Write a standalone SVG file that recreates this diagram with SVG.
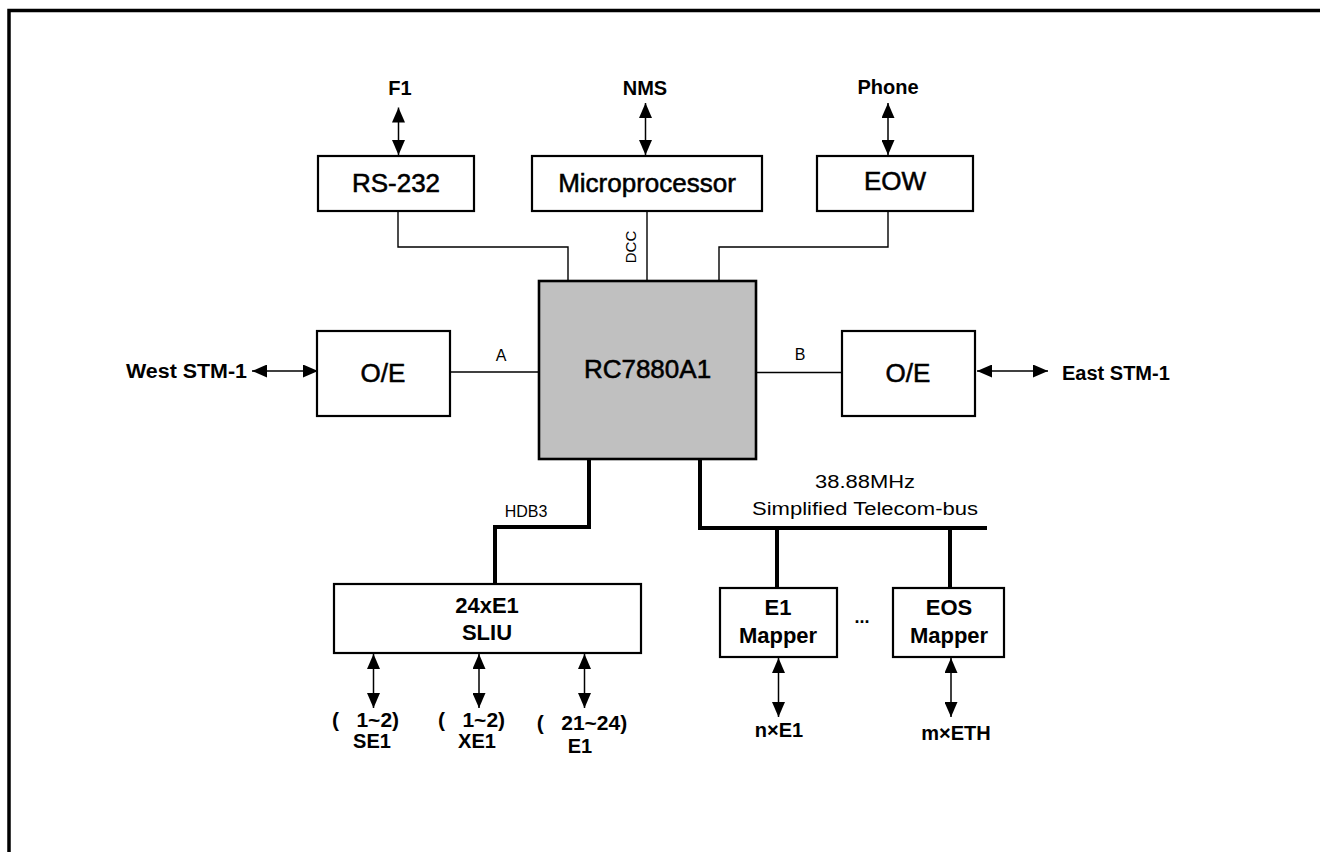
<svg xmlns="http://www.w3.org/2000/svg" width="1320" height="852" viewBox="0 0 1320 852">
<style>
text{font-family:"Liberation Sans",Arial,sans-serif;fill:#000}
.b{font-weight:bold}
.m{font-size:26px;stroke:#000;stroke-width:0.55px}
.box{fill:#fff;stroke:#000;stroke-width:2.2}
.chip{fill:#c0c0c0;stroke:#000;stroke-width:2.6}
.thin{fill:none;stroke:#000;stroke-width:1.4}
.bus{fill:none;stroke:#000;stroke-width:4}
.arr{fill:none;stroke:#000;stroke-width:1.5;marker-start:url(#ah);marker-end:url(#ah)}
</style>
<defs>
<marker id="ah" markerWidth="15" markerHeight="13" refX="15" refY="6.5" orient="auto-start-reverse" markerUnits="userSpaceOnUse">
<path d="M0,0 L15,6.5 L0,13 z" fill="#000"/>
</marker>
</defs>
<rect width="1320" height="852" fill="#fff"/>
<path d="M9,852 V10.5 H1320" fill="none" stroke="#000" stroke-width="3.5"/>

<g id="connectors">
<path class="thin" d="M398,211 V247 H568 V281"/>
<path class="thin" d="M647,211 V281"/>
<path class="thin" d="M888,211 V247 H719 V281"/>
<path class="thin" d="M450,372 H539"/>
<path class="thin" d="M756,372.5 H842"/>
<path class="bus" d="M589,459 V527 H495 V584"/>
<path class="bus" d="M700,459 V528 H987"/>
<path class="bus" d="M777,528 V588"/>
<path class="bus" d="M950,528 V588"/>
<path class="arr" d="M398.5,107.5 V155"/>
<path class="arr" d="M645.5,103 V155"/>
<path class="arr" d="M888,103 V155"/>
<path class="arr" d="M252,371 H318"/>
<path class="arr" d="M977,371 H1048"/>
<path class="arr" d="M373.5,654 V708"/>
<path class="arr" d="M479,654 V708"/>
<path class="arr" d="M584.5,654 V708"/>
<path class="arr" d="M778.5,658 V717"/>
<path class="arr" d="M951,658 V717"/>
<text x="526" y="517" font-size="16" text-anchor="middle">HDB3</text>
<text x="501" y="361" font-size="16" text-anchor="middle">A</text>
<text x="800" y="360" font-size="16" text-anchor="middle">B</text>
<text transform="translate(636,247) rotate(-90)" font-size="15" text-anchor="middle">DCC</text>
<text x="865" y="488" font-size="18" text-anchor="middle" textLength="100" lengthAdjust="spacingAndGlyphs">38.88MHz</text>
<text x="865" y="515" font-size="18" text-anchor="middle" textLength="226" lengthAdjust="spacingAndGlyphs">Simplified Telecom-bus</text>
</g>

<g id="f1"><text class="b" x="400" y="95" font-size="20" text-anchor="middle">F1</text></g>
<g id="nms"><text class="b" x="645" y="95" font-size="20" text-anchor="middle">NMS</text></g>
<g id="phone"><text class="b" x="888" y="94" font-size="20" text-anchor="middle">Phone</text></g>

<g id="rs232"><rect class="box" x="318" y="156" width="156" height="55"/><text class="m" x="396" y="192" text-anchor="middle">RS-232</text></g>
<g id="microprocessor"><rect class="box" x="532" y="156" width="230" height="55"/><text class="m" x="647" y="192" text-anchor="middle">Microprocessor</text></g>
<g id="eow"><rect class="box" x="817" y="156" width="156" height="55"/><text class="m" x="895" y="190" text-anchor="middle">EOW</text></g>

<g id="chip"><rect class="chip" x="539" y="281" width="217" height="178"/><text class="m" x="647.5" y="378" text-anchor="middle">RC7880A1</text></g>

<g id="oe-west"><rect class="box" x="317" y="331" width="133" height="85"/><text class="m" x="383" y="382" text-anchor="middle">O/E</text></g>
<g id="oe-east"><rect class="box" x="842" y="331" width="133" height="85"/><text class="m" x="908" y="382" text-anchor="middle">O/E</text></g>
<g id="west-stm1"><text class="b" x="247" y="378" font-size="20" text-anchor="end" textLength="121" lengthAdjust="spacingAndGlyphs">West STM-1</text></g>
<g id="east-stm1"><text class="b" x="1062" y="380" font-size="20">East STM-1</text></g>

<g id="sliu"><rect class="box" x="334" y="584" width="307" height="69"/>
<text class="b" x="487" y="613" font-size="22" text-anchor="middle">24xE1</text>
<text class="b" x="487" y="640" font-size="22" text-anchor="middle">SLIU</text></g>

<g id="e1-mapper"><rect class="box" x="720" y="588" width="117" height="69"/>
<text class="b" x="778" y="615" font-size="22" text-anchor="middle">E1</text>
<text class="b" x="778" y="643" font-size="22" text-anchor="middle">Mapper</text></g>
<g id="dots"><text class="b" x="862" y="623" font-size="18" text-anchor="middle">...</text></g>
<g id="eos-mapper"><rect class="box" x="893" y="588" width="111" height="69"/>
<text class="b" x="949" y="615" font-size="22" text-anchor="middle">EOS</text>
<text class="b" x="949" y="643" font-size="22" text-anchor="middle">Mapper</text></g>

<g id="se1"><text class="b" x="365.5" y="727" font-size="21" text-anchor="middle" xml:space="preserve">(   1~2)</text><text class="b" x="372" y="748" font-size="20" text-anchor="middle">SE1</text></g>
<g id="xe1"><text class="b" x="471.5" y="727" font-size="21" text-anchor="middle" xml:space="preserve">(   1~2)</text><text class="b" x="477" y="748" font-size="20" text-anchor="middle">XE1</text></g>
<g id="e1"><text class="b" x="582" y="730" font-size="21" text-anchor="middle" xml:space="preserve">(   21~24)</text><text class="b" x="580" y="753" font-size="20" text-anchor="middle">E1</text></g>
<g id="nxe1"><text class="b" x="779" y="737" font-size="20" text-anchor="middle">n×E1</text></g>
<g id="mxeth"><text class="b" x="956" y="740" font-size="20" text-anchor="middle">m×ETH</text></g>
</svg>
